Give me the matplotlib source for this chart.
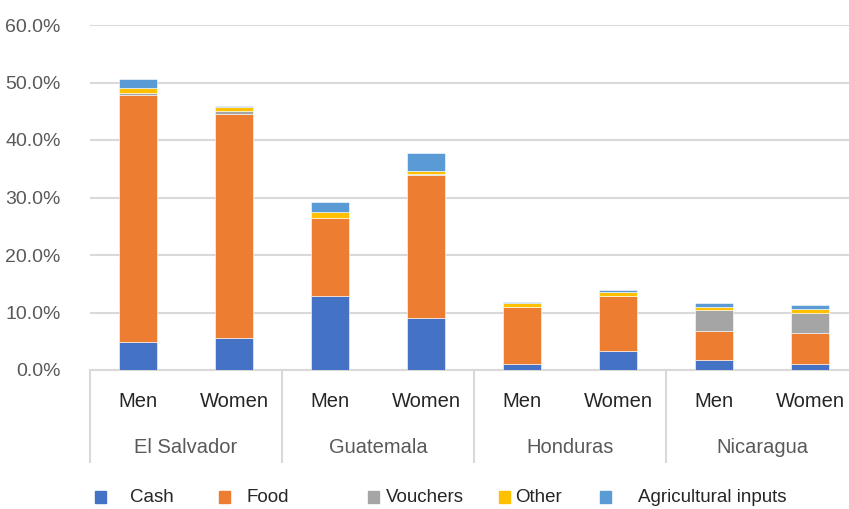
import numpy as np
import matplotlib.pyplot as plt
from matplotlib.patches import Rectangle
from matplotlib.transforms import blended_transform_factory

plt.rcParams['font.family'] = ['Liberation Sans', 'DejaVu Sans']

# -- data (percent) --
countries = ['El Salvador', 'Guatemala', 'Honduras', 'Nicaragua']
sexes = ['Men', 'Women']
cash = [4.8, 5.5, 12.8, 9.0, 1.0, 3.3, 1.8, 1.0]
food = [43.0, 39.1, 13.6, 24.9, 9.9, 9.5, 5.0, 5.4]
vouchers = [0.4, 0.4, 0.0, 0.2, 0.0, 0.1, 3.6, 3.5]
other = [0.8, 0.7, 1.1, 0.5, 0.8, 0.7, 0.6, 0.7]
agri = [1.6, 0.2, 1.8, 3.2, 0.2, 0.3, 0.6, 0.7]

series = [('Cash', cash, '#4472C4'),
          ('Food', food, '#ED7D31'),
          ('Vouchers', vouchers, '#A5A5A5'),
          ('Other', other, '#FFC000'),
          ('Agricultural inputs', agri, '#5B9BD5')]

W, H = 849, 509
fig = plt.figure(figsize=(W / 100, H / 100), dpi=100)
ax = fig.add_axes([90 / W, (H - 370) / H, 768 / W, 345 / H])

x = np.arange(len(cash))
bottom = np.zeros(len(x))
for name, vals, col in series:
    v = np.array(vals)
    ax.bar(x, v, 0.4, bottom=bottom, color=col, edgecolor='white', linewidth=0.4, zorder=3)
    bottom += v

ax.set_xlim(-0.5, len(x) - 0.5)
ax.set_ylim(0, 60)
ax.set_yticks(np.arange(0, 61, 10))
ax.set_yticklabels(['%.1f%%' % t for t in np.arange(0, 61, 10)], fontsize=14, color='#595959')
ax.tick_params(axis='y', length=0, pad=21)
ax.set_xticks([])
ax.grid(axis='y', color='#D9D9D9', linewidth=1.5, zorder=0)
for s in ['top', 'right', 'left']:
    ax.spines[s].set_visible(False)
ax.spines['bottom'].set_color('#D9D9D9')
ax.spines['bottom'].set_linewidth(1.5)

# category axis labels
tr = blended_transform_factory(ax.transData, ax.transAxes)
for i in range(len(x)):
    ax.text(x[i], -0.09, sexes[i % 2], transform=tr, ha='center', va='center',
            fontsize=14.5, color='#262626')
for g, c in enumerate(countries):
    ax.text(2 * g + 0.5, -0.225, c, transform=tr, ha='center', va='center',
            fontsize=14.5, color='#595959')
for b in np.arange(-0.5, len(x), 2):
    ax.plot([b, b], [0, -0.267], transform=tr, color='#D9D9D9', lw=1.5, clip_on=False)

# legend
leg_marker = [95, 219, 368, 499, 600]
leg_text = [130, 247, 386, 515, 638]
for (name, vals, col), mx, tx in zip(series, leg_marker, leg_text):
    fig.patches.append(Rectangle((mx / W, (H - 503) / H), 11 / W, 12 / H,
                                 transform=fig.transFigure, color=col))
    fig.text(tx / W, (H - 497) / H, name, ha='left', va='center', fontsize=13.5, color='#262626')

fig.savefig('out.png', dpi=100)
